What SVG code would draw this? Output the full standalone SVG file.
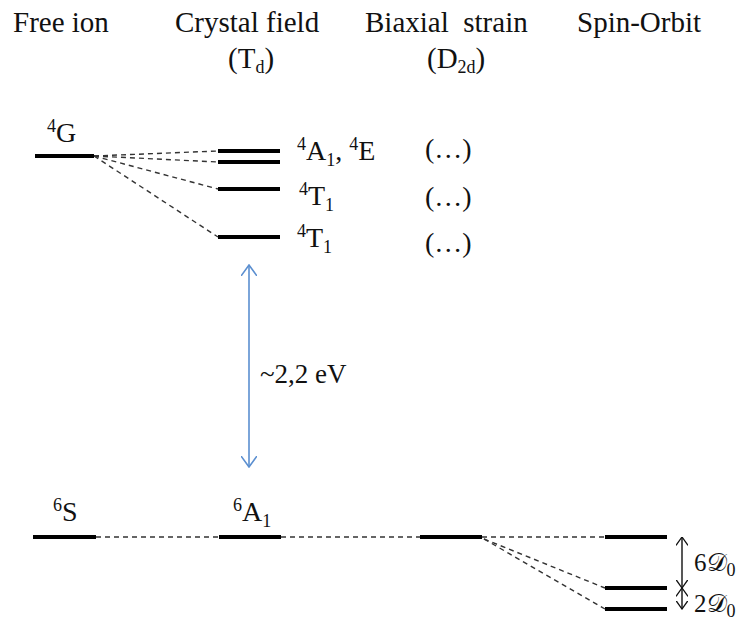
<svg xmlns="http://www.w3.org/2000/svg" width="747" height="621" viewBox="0 0 747 621" font-family="'Liberation Serif', 'Times New Roman', serif">
<style>
text{font-family:'Liberation Serif','Times New Roman',serif;fill:#111}
.h{font-size:29px}
.l{font-size:28px}
.s{font-size:18px}
.lvl{stroke:#000;stroke-width:4;fill:none}
.dash{stroke:#333;stroke-width:1.4;stroke-dasharray:5 4;fill:none}
.blue{stroke:#5B8FD0;stroke-width:1.6;fill:none}
.blk{stroke:#111;stroke-width:1.4;fill:none}
</style>
<defs>
<marker id="ab" viewBox="0 0 12 16" refX="11" refY="8" markerWidth="12" markerHeight="16" markerUnits="userSpaceOnUse" orient="auto-start-reverse">
<path d="M0,0 L11,8 L0,16" fill="none" stroke="#5B8FD0" stroke-width="1.6"/>
</marker>
<marker id="ak" viewBox="0 0 9 12" refX="8.5" refY="6" markerWidth="9" markerHeight="12" markerUnits="userSpaceOnUse" orient="auto-start-reverse">
<path d="M0,0 L8.5,6 L0,12" fill="none" stroke="#111" stroke-width="1.3"/>
</marker>
</defs>
<g id="headers">
<text class="h" x="13" y="32">Free ion</text>
<text class="h" x="175" y="32">Crystal field</text>
<text class="h" x="228" y="68">(T<tspan class="s" dy="5">d</tspan><tspan dy="-5">)</tspan></text>
<text class="h" x="365" y="32" xml:space="preserve">Biaxial  strain</text>
<text class="h" x="427" y="68">(D<tspan class="s" dy="5">2d</tspan><tspan dy="-5">)</tspan></text>
<text class="h" x="577" y="32">Spin-Orbit</text>
</g>
<g id="connectors">
<line class="dash" x1="94" y1="156" x2="218" y2="151"/>
<line class="dash" x1="94" y1="156" x2="218" y2="162"/>
<line class="dash" x1="94" y1="156" x2="218" y2="189"/>
<line class="dash" x1="94" y1="156" x2="218" y2="237"/>
<line class="dash" x1="96" y1="537" x2="219" y2="537"/>
<line class="dash" x1="281" y1="537" x2="420" y2="537"/>
<line class="dash" x1="482" y1="537" x2="605" y2="537"/>
<line class="dash" x1="484" y1="539" x2="605" y2="588"/>
<line class="dash" x1="484" y1="539" x2="605" y2="609"/>
<line class="blue" x1="249" y1="265" x2="249" y2="467" marker-start="url(#ab)" marker-end="url(#ab)"/>
<line class="blk" x1="682" y1="537" x2="682" y2="588" marker-start="url(#ak)" marker-end="url(#ak)"/>
<line class="blk" x1="682" y1="588" x2="682" y2="609" marker-start="url(#ak)" marker-end="url(#ak)"/>
</g>
<g id="free-4G">
<line class="lvl" x1="35" y1="156" x2="94" y2="156"/>
<text class="l" x="47" y="142"><tspan class="s" dy="-10">4</tspan><tspan dy="10">G</tspan></text>
</g>
<g id="td-4A1-4E">
<line class="lvl" x1="218" y1="151" x2="280" y2="151"/>
<line class="lvl" x1="218" y1="162" x2="280" y2="162"/>
<text class="l" x="297" y="160"><tspan class="s" dy="-10">4</tspan><tspan dy="10">A</tspan><tspan class="s" dy="6">1</tspan><tspan dy="-6">, </tspan><tspan class="s" dy="-10">4</tspan><tspan dy="10">E</tspan></text>
</g>
<g id="td-4T1-a">
<line class="lvl" x1="218" y1="189" x2="280" y2="189"/>
<text class="l" x="299" y="205"><tspan class="s" dy="-10">4</tspan><tspan dy="10">T</tspan><tspan class="s" dy="6">1</tspan></text>
</g>
<g id="td-4T1-b">
<line class="lvl" x1="218" y1="237" x2="280" y2="237"/>
<text class="l" x="297" y="247"><tspan class="s" dy="-10">4</tspan><tspan dy="10">T</tspan><tspan class="s" dy="6">1</tspan></text>
</g>
<g id="d2d-dots">
<text class="l" x="425" y="158">(…)</text>
<text class="l" x="425" y="206">(…)</text>
<text class="l" x="425" y="252">(…)</text>
</g>
<g id="gap-label">
<text x="260" y="383" style="font-size:27px">~2,2 eV</text>
</g>
<g id="free-6S">
<line class="lvl" x1="33" y1="537" x2="96" y2="537"/>
<text class="l" x="53" y="521"><tspan class="s" dy="-10">6</tspan><tspan dy="10">S</tspan></text>
</g>
<g id="td-6A1">
<line class="lvl" x1="219" y1="537" x2="281" y2="537"/>
<text class="l" x="233" y="521"><tspan class="s" dy="-10">6</tspan><tspan dy="10">A</tspan><tspan class="s" dy="6">1</tspan></text>
</g>
<g id="d2d-6A1">
<line class="lvl" x1="420" y1="537" x2="482" y2="537"/>
</g>
<g id="so-levels">
<line class="lvl" x1="605" y1="537" x2="667" y2="537"/>
<line class="lvl" x1="605" y1="588" x2="667" y2="588"/>
<line class="lvl" x1="605" y1="609" x2="667" y2="609"/>
<text x="694" y="571" style="font-size:25px">6𝒟<tspan class="s" dy="5">0</tspan></text>
<text x="694" y="612" style="font-size:25px">2𝒟<tspan class="s" dy="5">0</tspan></text>
</g>
</svg>
